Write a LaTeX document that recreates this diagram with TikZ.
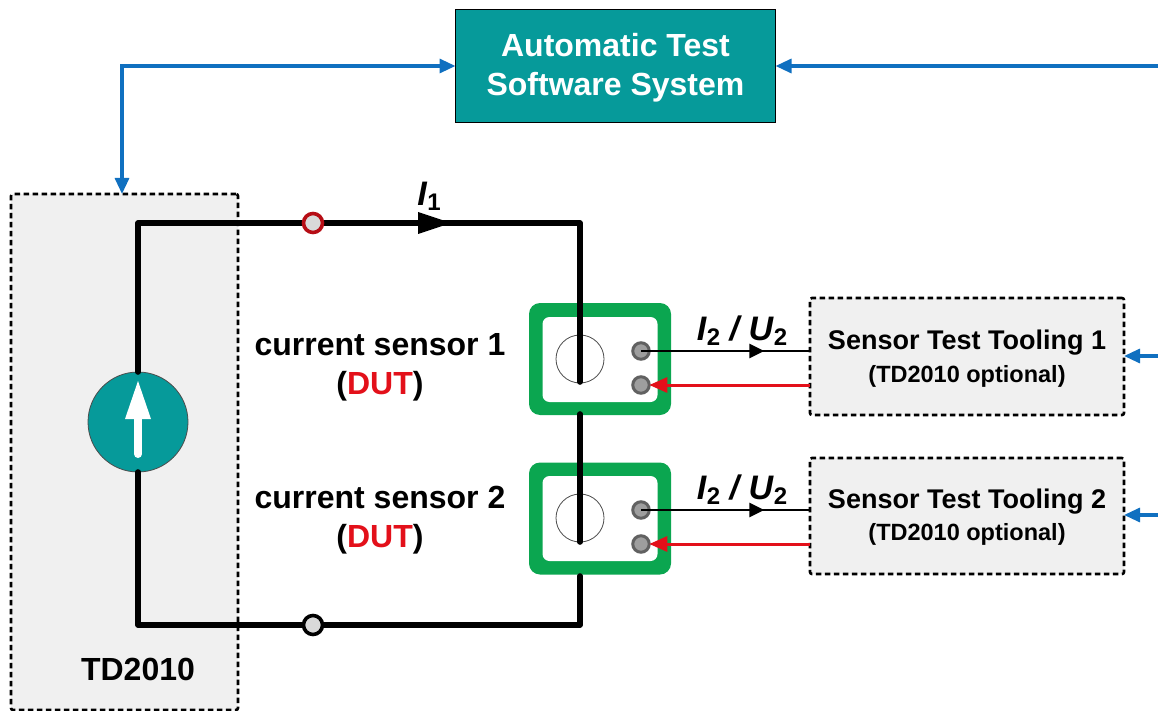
\documentclass[tikz,border=0pt]{standalone}
\usepackage{fontspec}
\setmainfont{Liberation Sans}
\usetikzlibrary{arrows.meta,decorations.markings,calc}
\definecolor{teal1}{HTML}{069A9A}
\definecolor{blue1}{HTML}{1070C0}
\definecolor{green1}{HTML}{0BA650}
\definecolor{red1}{HTML}{E3101A}
\definecolor{panel}{HTML}{F0F0F0}
\tikzset{
  x=1pt,y=-1pt,
  rbox/.style={rectangle,inner sep=0,outer sep=0},
  dashbox/.style={rbox,fill=panel,draw=black,line width=2.6pt,dash pattern=on 5.5pt off 3.5pt,rounded corners=2pt},
  frame/.style={rbox,fill=green1,minimum width=142pt,minimum height=112pt,rounded corners=11pt},
  inner/.style={rbox,fill=white,minimum width=115pt,minimum height=85pt,rounded corners=7pt},
  coil/.style={circle,draw=black!70,line width=.8pt,minimum size=48pt,inner sep=0,outer sep=0},
  term/.style={circle,fill=black!38,draw=black!62,line width=3pt,minimum size=16.5pt,inner sep=0,outer sep=0},
  wire/.style={line width=5.6pt,line cap=round,line join=round},
  bus/.style={blue1,line width=3.2pt,-{Triangle[length=16pt,width=14pt]}},
  sig/.style={line width=2.8pt,black,postaction={decorate},decoration={markings,mark=at position 0.73 with {\arrow{Triangle[length=15pt,width=14pt]}}}},
  ret/.style={red1,line width=3pt,-{Triangle[length=18pt,width=15pt]}},
  lab/.style={font=\fontsize{#1}{#1}\selectfont\bfseries,inner sep=0,anchor=base},
}
\begin{document}
\begin{tikzpicture}
\useasboundingbox (0,0) rectangle (1158,711);
% boxes
\node[rbox,fill=teal1,draw=black,line width=1.8pt,minimum width=320pt,minimum height=113pt] (ats) at (615.5,66) {};
\node[inner sep=0,text=white,align=center,font=\fontsize{32}{39}\selectfont\bfseries] (atstext) at (615.5,68) {Automatic Test\\Software System};
\node[dashbox,minimum width=227pt,minimum height=516pt] (td) at (124.5,452) {};
\node[dashbox,minimum width=314pt,minimum height=117pt] (tool1) at (967,356.5) {};
\node[dashbox,minimum width=314pt,minimum height=116pt] (tool2) at (967,516) {};
% sensors
\node[frame] (f1) at (600,359) {};
\node[inner] (i1) at (600,359.5) {};
\node[frame] (f2) at (600,518.5) {};
\node[inner] (i2) at (600,518.5) {};
\node[coil] (c1) at (580,359) {};
\node[coil] (c2) at (580,518) {};
\node[term] (t11) at (641,351) {};
\node[term] (t12) at (641,385) {};
\node[term] (t21) at (641,510) {};
\node[term] (t22) at (641,544) {};
% source and wiring
\node[circle,fill=teal1,draw=black!70,line width=.8pt,minimum size=100pt,inner sep=0,outer sep=0] (src) at (138,422) {};
\coordinate (tr) at (580,223);
\coordinate (tl) at (138,223);
\coordinate (br) at (580,625);
\coordinate (bl) at (138,625);
\coordinate (e1) at (580,382);
\coordinate (s2) at (580,414);
\coordinate (e2) at (580,542);
\coordinate (s3) at (580,576);
\draw[wire] (src.north) -- (tl) -- (tr) -- (e1);
\draw[wire] (s2) -- (e2);
\draw[wire] (s3) -- (br) -- (bl) -- (src.south);
\node[circle,fill=black!15,draw=red1!80!black,line width=3.6pt,minimum size=19pt,inner sep=0] (p1) at (313,223) {};
\node[circle,fill=black!15,draw=black,line width=3.6pt,minimum size=19pt,inner sep=0] (p2) at (313,625) {};
\coordinate (ib) at (451,223);
\fill[black] (418,212) -- (ib) -- (418,234) -- cycle;
% source arrow
\coordinate (sa) at (138,454);
\coordinate (sb) at (138,381);
\draw[white,line width=8pt,line cap=round] (sa) -- (138,415);
\fill[white] (sb) -- (151,419) -- (125,419) -- cycle;
% signals
\draw[sig] (t11.center) -- (tool1.west |- t11);
\draw[sig] (t21.center) -- (tool2.west |- t21);
\draw[ret] (tool1.west |- t12) -- (t12.east);
\draw[ret] (tool2.west |- t22) -- (t22.east);
% blue lines
\coordinate (cn) at (122,66);
\coordinate (r0) at (1158,66);
\coordinate (r1) at (1158,356);
\coordinate (r2) at (1158,515);
\draw[bus] (r0) -- (ats.east);
\draw[bus] (r1) -- (tool1.east |- r1);
\draw[bus] (r2) -- (tool2.east |- r2);
\draw[bus,{Triangle[length=16pt,width=14pt]}-{Triangle[length=16pt,width=14pt]}] (ats.west) -- (cn) -- (cn |- td.north);
% labels
\node[lab=32] (n1) at (380,355) {current sensor 1};
\node[lab=32] (n2) at (380,394) {(\textcolor{red1}{DUT})};
\node[lab=32] (n3) at (380,508) {current sensor 2};
\node[lab=32] (n4) at (380,547) {(\textcolor{red1}{DUT})};
\node[lab=32] (n5) at (138,680) {TD2010};
\node[lab=27] (a1) at (967,349) {Sensor Test Tooling 1};
\node[lab=23.5] (a2) at (967,382) {(TD2010 optional)};
\node[lab=27] (b1) at (967,508) {Sensor Test Tooling 2};
\node[lab=23.5] (b2) at (967,540) {(TD2010 optional)};
\node[lab=34] (l1) at (742,340) {\textit{I}\raisebox{-5pt}{\fontsize{24}{24}\selectfont 2} \textit{/ U}\raisebox{-5pt}{\fontsize{24}{24}\selectfont 2}};
\node[lab=34] (l2) at (742,499) {\textit{I}\raisebox{-5pt}{\fontsize{24}{24}\selectfont 2} \textit{/ U}\raisebox{-5pt}{\fontsize{24}{24}\selectfont 2}};
\node[lab=34] (l3) at (429,206) {\textit{I}\raisebox{-5pt}{\fontsize{24}{24}\selectfont 1}};
\end{tikzpicture}
\end{document}
